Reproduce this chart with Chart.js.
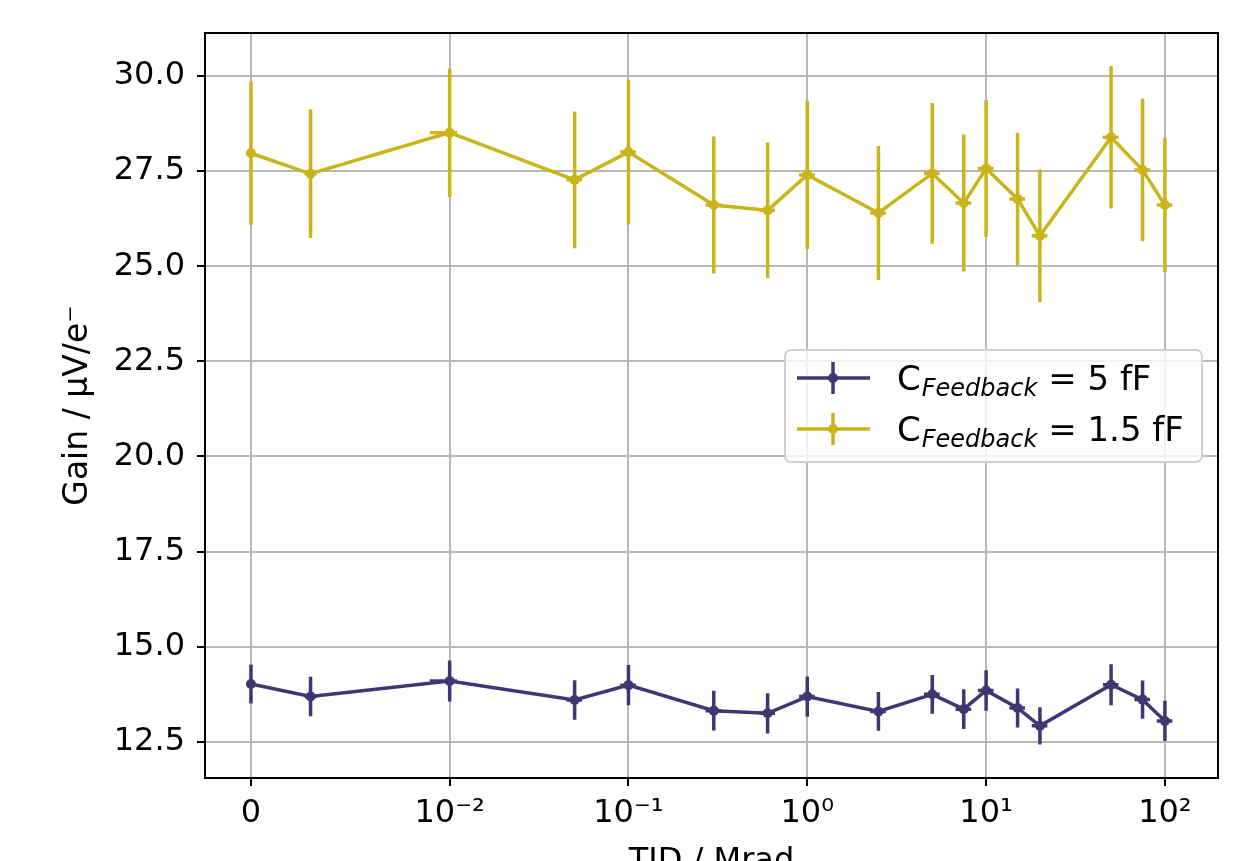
<!DOCTYPE html>
<html>
<head>
<meta charset="utf-8">
<script src="https://cdn.jsdelivr.net/npm/chart.js@4.4.0/dist/chart.umd.min.js"></script>
<style>
    html, body { margin: 0; padding: 0; background: #fff; }
</style>
</head>
<body>
<canvas id="gainChart" width="1249" height="861"></canvas>
<script>
// TID dose points (Mrad) and their horizontal errors
const tid = [0, 0.003, 0.01, 0.05, 0.1, 0.3, 0.6, 1, 2.5, 5, 7.5, 10, 15, 20, 50, 75, 100];
const tidErr = [0, 0.0003, 0.001, 0.005, 0.01, 0.03, 0.06, 0.1, 0.25, 0.5, 0.75, 1, 1.5, 2, 5, 7.5, 10];

// C_Feedback = 5 fF
const gain5fF = [14.02, 13.69, 14.10, 13.60, 13.99, 13.32, 13.25, 13.69, 13.30, 13.75, 13.36, 13.85, 13.39, 12.92, 14.00, 13.61, 13.05];
const err5fF = [0.51, 0.52, 0.54, 0.52, 0.53, 0.52, 0.53, 0.53, 0.51, 0.51, 0.52, 0.53, 0.51, 0.49, 0.54, 0.50, 0.53];

// C_Feedback = 1.5 fF
const gain15fF = [27.97, 27.43, 28.51, 27.27, 28.00, 26.61, 26.47, 27.40, 26.40, 27.44, 26.66, 27.57, 26.77, 25.80, 28.39, 27.53, 26.61];
const err15fF = [1.88, 1.69, 1.69, 1.80, 1.90, 1.80, 1.78, 1.95, 1.76, 1.85, 1.80, 1.80, 1.74, 1.74, 1.87, 1.87, 1.77];

const xTicks = [0, 0.01, 0.1, 1, 10, 100];
const xTickLabels = ['0', '10⁻²', '10⁻¹', '10⁰', '10¹', '10²'];
const yTicks = [12.5, 15.0, 17.5, 20.0, 22.5, 25.0, 27.5, 30.0];

const seriesLabels = ['5 fF', '1.5 fF'];
const colors = ['#3e3772', '#c9b51a'];

// symlog like matplotlib (linthresh 0.01, linscale 1, base 10)
const LINTHRESH = 0.01;
const LINSCALE = 1 / (1 - 0.1);
function symlog(v) {
    const a = Math.abs(v);
    const t = a <= LINTHRESH ? a / LINTHRESH * LINSCALE : LINSCALE + Math.log10(a / LINTHRESH);
    return Math.sign(v) * t;
}

const FONT = 'DejaVu Sans';
Chart.defaults.font.family = FONT;
Chart.defaults.color = '#000';

const errorBars = {
    id: 'errorBars',
    beforeDatasetsDraw(chart) {
        const { ctx, chartArea, scales: { x, y } } = chart;
        ctx.save();
        ctx.beginPath();
        ctx.rect(chartArea.left, chartArea.top, chartArea.width, chartArea.height);
        ctx.clip();
        ctx.lineWidth = 3.5;
        chart.data.datasets.forEach(ds => {
            ctx.strokeStyle = ds.borderColor;
            tid.forEach((t, i) => {
                const px = x.getPixelForValue(symlog(t));
                const py = y.getPixelForValue(ds.values[i]);
                ctx.beginPath();
                ctx.moveTo(px, y.getPixelForValue(ds.values[i] + ds.errors[i]));
                ctx.lineTo(px, y.getPixelForValue(ds.values[i] - ds.errors[i]));
                ctx.moveTo(x.getPixelForValue(symlog(t - tidErr[i])), py);
                ctx.lineTo(x.getPixelForValue(symlog(t + tidErr[i])), py);
                ctx.stroke();
            });
        });
        ctx.restore();
    }
};

const frameAndLegend = {
    id: 'frameAndLegend',
    afterDraw(chart) {
        const { ctx, chartArea } = chart;
        ctx.save();
        ctx.strokeStyle = '#000';
        ctx.lineWidth = 2;
        ctx.strokeRect(chartArea.left, chartArea.top, chartArea.width, chartArea.height);

        // legend box
        ctx.beginPath();
        ctx.roundRect(785, 350, 417, 112, 6);
        ctx.fillStyle = 'rgba(255,255,255,0.8)';
        ctx.fill();
        ctx.strokeStyle = '#d0d0d0';
        ctx.lineWidth = 2;
        ctx.stroke();

        const rows = [378, 429];
        rows.forEach((ry, i) => {
            ctx.strokeStyle = colors[i];
            ctx.fillStyle = colors[i];
            ctx.lineWidth = 3.5;
            ctx.beginPath();
            ctx.moveTo(797, ry); ctx.lineTo(870, ry);
            ctx.moveTo(833, ry - 16); ctx.lineTo(833, ry + 16);
            ctx.stroke();
            ctx.beginPath();
            ctx.arc(833, ry, 5, 0, Math.PI * 2);
            ctx.fill();

            const base = ry + 12;
            let tx = 897;
            ctx.fillStyle = '#000';
            ctx.textBaseline = 'alphabetic';
            ctx.font = '34px "' + FONT + '"';
            ctx.fillText('C', tx, base);
            tx += ctx.measureText('C').width + 1;
            ctx.font = 'italic 24px "' + FONT + '"';
            ctx.fillText('Feedback', tx, base + 6);
            tx += ctx.measureText('Feedback').width;
            ctx.font = '34px "' + FONT + '"';
            ctx.fillText(' = ' + seriesLabels[i], tx, base);
        });
        ctx.restore();
    }
};

const makeSet = (values, errors, color) => ({
    data: tid.map((t, i) => ({ x: symlog(t), y: values[i] })),
    values: values,
    errors: errors,
    borderColor: color,
    backgroundColor: color,
    pointBackgroundColor: color,
    pointBorderWidth: 0,
    pointRadius: 5,
    borderWidth: 3.5,
    tension: 0
});

new Chart(document.getElementById('gainChart'), {
    type: 'line',
    data: {
        datasets: [
            makeSet(gain5fF, err5fF, colors[0]),
            makeSet(gain15fF, err15fF, colors[1])
        ]
    },
    options: {
        responsive: false,
        animation: false,
        layout: { padding: { top: 33, right: 31, left: 0, bottom: 0 } },
        plugins: {
            legend: { display: false },
            tooltip: { enabled: false }
        },
        scales: {
            x: {
                type: 'linear',
                min: -0.257,
                max: 5.408,
                afterBuildTicks: s => { s.ticks = xTicks.map(v => ({ value: symlog(v) })); },
                afterFit: s => { s.height = 83; },
                grid: { color: '#b8b8b8', lineWidth: 2, tickColor: '#000', tickLength: 8, tickWidth: 2 },
                border: { color: '#000', width: 2 },
                ticks: {
                    font: { size: 32 },
                    padding: 8,
                    maxRotation: 0,
                    autoSkip: false,
                    callback: (v, i) => xTickLabels[i]
                },
                title: {
                    display: true,
                    text: 'TID / Mrad',
                    font: { size: 32, lineHeight: 1 },
                    padding: { top: 0, bottom: -17 }
                }
            },
            y: {
                min: 11.55,
                max: 31.13,
                afterBuildTicks: s => { s.ticks = yTicks.map(v => ({ value: v })); },
                afterFit: s => { s.width = 205; },
                grid: { color: '#b8b8b8', lineWidth: 2, tickColor: '#000', tickLength: 8, tickWidth: 2 },
                border: { color: '#000', width: 2 },
                ticks: {
                    font: { size: 32 },
                    padding: 12,
                    callback: v => v.toFixed(1)
                },
                title: {
                    display: true,
                    text: 'Gain / µV/e⁻',
                    font: { size: 33, lineHeight: 1 },
                    padding: { top: 62, bottom: 0 }
                }
            }
        }
    },
    plugins: [errorBars, frameAndLegend]
});
</script>
</body>
</html>
